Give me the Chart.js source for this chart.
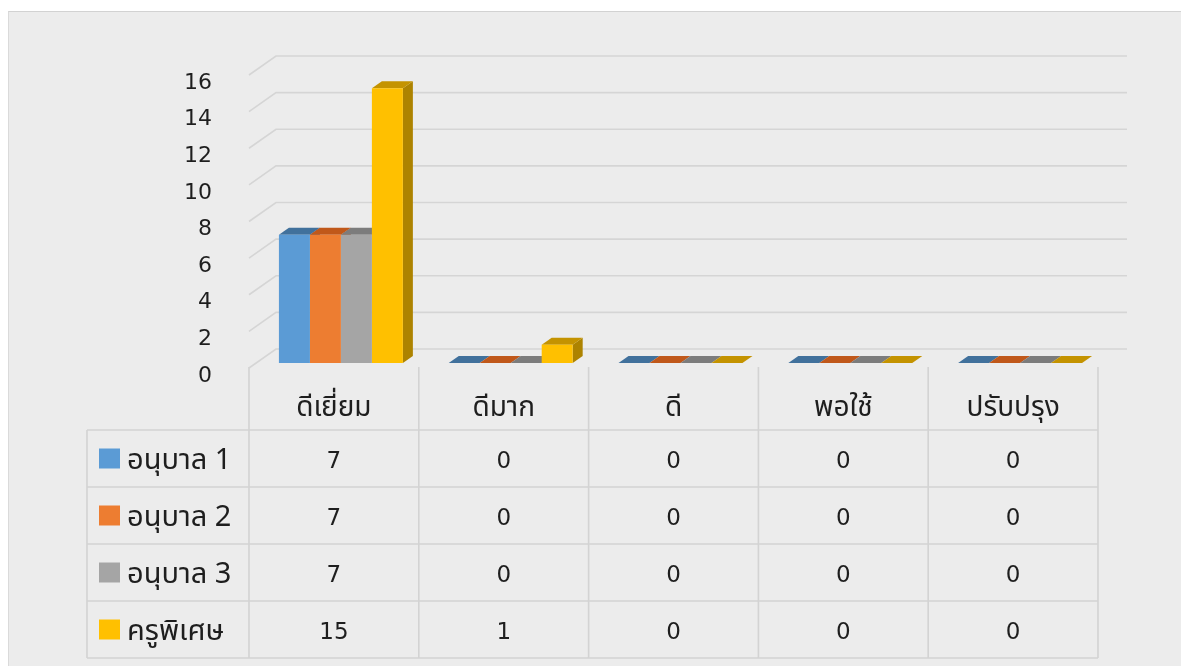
<!DOCTYPE html>
<html lang="th">
<head>
<meta charset="UTF-8">
<title>ผลการประเมิน</title>
<script src="https://cdn.jsdelivr.net/npm/chart.js"></script>
<style>
  body { margin: 0; background: #fff; }
  #frame { position: absolute; left: 8px; top: 11px; width: 1172px; height: 660px; background: #ececec; border-top: 1px solid #d2d2d2; border-left: 1px solid #dadada; }
  #chart { position: absolute; left: 0; top: 0; }
</style>
</head>
<body>
<div id="frame"></div>
<canvas id="chart" width="1182" height="666"></canvas>
<script>
const categories = ["ดีเยี่ยม", "ดีมาก", "ดี", "พอใช้", "ปรับปรุง"];
const seriesNames = ["อนุบาล 1", "อนุบาล 2", "อนุบาล 3", "ครูพิเศษ"];
const anuban1 = [7, 0, 0, 0, 0];
const anuban2 = [7, 0, 0, 0, 0];
const anuban3 = [7, 0, 0, 0, 0];
const kruPiset = [15, 1, 0, 0, 0];
const yMax = 16;
const yStep = 2;

// front / top / side colours for each series
const frontColors = ["#5b9bd5", "#ed7d31", "#a5a5a5", "#ffc000"];
const topColors = ["#41719c", "#c0581a", "#7c7c7c", "#c49300"];
const sideColors = ["#3f6f9a", "#b2531d", "#767676", "#ad8300"];

const thaiFont = "Tahoma, 'Leelawadee UI', 'Noto Sans Thai', 'DejaVu Sans', sans-serif";
const numFont = "'DejaVu Sans', Tahoma, sans-serif";

const seriesValues = [anuban1, anuban2, anuban3, kruPiset];

// back wall grid lines, drawn behind the bars
const backWall = {
    id: "backWall",
    beforeDatasetsDraw(chart) {
        const { ctx, chartArea: a, scales: { y } } = chart;
        ctx.save();
        ctx.strokeStyle = "#d5d5d5";
        ctx.lineWidth = 1.6;
        for (let v = 0; v <= yMax; v += yStep) {
            const p = y.getPixelForValue(v);
            ctx.beginPath();
            ctx.moveTo(a.left - 7, p + 5);
            ctx.lineTo(a.left + 20, p - 14);
            ctx.lineTo(a.right + 22, p - 14);
            ctx.stroke();
        }
        ctx.restore();
    }
};

// top and side faces so the bars look like blocks
const blocks = {
    id: "blocks",
    beforeDatasetsDraw(chart) {
        const ctx = chart.ctx;
        const dx = 10, dy = 7;
        ctx.save();
        chart.data.datasets.forEach((ds, di) => {
            chart.getDatasetMeta(di).data.forEach(bar => {
                const l = bar.x - bar.width / 2, r = bar.x + bar.width / 2;
                const t = bar.y, b = bar.base;
                ctx.fillStyle = sideColors[di];
                ctx.beginPath();
                ctx.moveTo(r, t); ctx.lineTo(r + dx, t - dy);
                ctx.lineTo(r + dx, b - dy); ctx.lineTo(r, b);
                ctx.closePath(); ctx.fill();
                ctx.fillStyle = topColors[di];
                ctx.beginPath();
                ctx.moveTo(l, t); ctx.lineTo(l + dx, t - dy);
                ctx.lineTo(r + dx, t - dy); ctx.lineTo(r, t);
                ctx.closePath(); ctx.fill();
            });
        });
        ctx.restore();
    }
};

// data table under the plot, columns follow the x scale
const dataTable = {
    id: "dataTable",
    afterDraw(chart) {
        const { ctx, chartArea: a, scales: { x } } = chart;
        const half = (x.getPixelForValue(1) - x.getPixelForValue(0)) / 2;
        const shift = -7;
        const top = a.bottom + 4, head = a.bottom + 67, rowH = 57;
        const bottom = head + rowH * seriesNames.length;
        const leftCol = 87;
        const edges = categories.map((c, i) => x.getPixelForValue(i) - half + shift);
        edges.push(x.getPixelForValue(categories.length - 1) + half + shift);
        const right = edges[edges.length - 1];

        ctx.save();
        ctx.strokeStyle = "#d3d3d3";
        ctx.lineWidth = 1.6;
        edges.forEach(ex => {
            ctx.beginPath(); ctx.moveTo(ex, top); ctx.lineTo(ex, bottom); ctx.stroke();
        });
        ctx.beginPath(); ctx.moveTo(leftCol, head); ctx.lineTo(leftCol, bottom); ctx.stroke();
        for (let k = 0; k <= seriesNames.length; k++) {
            const ry = head + k * rowH;
            ctx.beginPath(); ctx.moveTo(leftCol, ry); ctx.lineTo(right, ry); ctx.stroke();
        }

        ctx.fillStyle = "#1e1e1e";
        ctx.textAlign = "center";
        ctx.textBaseline = "middle";
        ctx.font = "28px " + thaiFont;
        categories.forEach((c, i) => ctx.fillText(c, x.getPixelForValue(i) + shift, top + 43));

        seriesNames.forEach((name, si) => {
            const cy = head + si * rowH + rowH / 2 + 2;
            ctx.fillStyle = frontColors[si];
            ctx.fillRect(99, cy - 12, 21, 20);
            ctx.fillStyle = "#1e1e1e";
            ctx.textAlign = "left";
            ctx.font = "29px " + thaiFont;
            ctx.fillText(name, 127, cy + 3);
            ctx.textAlign = "center";
            ctx.font = "23px " + numFont;
            seriesValues[si].forEach((v, i) => ctx.fillText(String(v), x.getPixelForValue(i) + shift, cy + 2));
        });
        ctx.restore();
    }
};

new Chart(document.getElementById("chart"), {
    type: "bar",
    data: {
        labels: categories,
        datasets: seriesNames.map((name, i) => ({
            label: name,
            data: seriesValues[i],
            backgroundColor: frontColors[i],
            borderWidth: 0,
            categoryPercentage: 0.73,
            barPercentage: 1.0
        }))
    },
    options: {
        responsive: false,
        animation: false,
        layout: { padding: { left: 56, right: 77, top: 70, bottom: 303 } },
        plugins: { legend: { display: false }, tooltip: { enabled: false } },
        scales: {
            x: { display: false },
            y: {
                min: 0, max: yMax,
                afterFit: s => { s.width = 200; },
                grid: { display: false, drawTicks: false },
                border: { display: false },
                ticks: {
                    stepSize: yStep,
                    padding: 44,
                    labelOffset: 13,
                    color: "#1e1e1e",
                    font: { family: numFont, size: 22 }
                }
            }
        }
    },
    plugins: [backWall, blocks, dataTable]
});
</script>
</body>
</html>
